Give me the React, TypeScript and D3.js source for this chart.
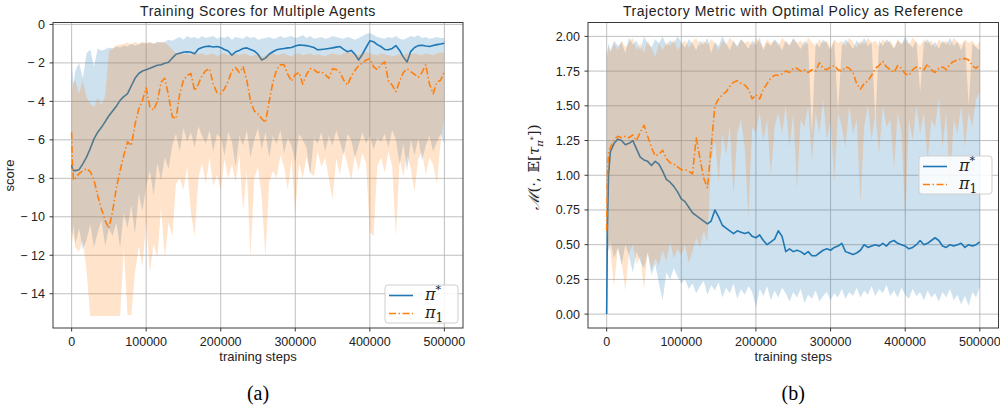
import * as d3 from "d3";

// training steps (in thousands) at which every series below is sampled
const stepsK = [0, 1, 2.5,
  5, 10, 15, 20, 25, 30, 35, 40, 45, 50,
  55, 60, 65, 70, 75, 80, 85, 90, 95, 100,
  105, 110, 115, 120, 125, 130, 135, 140, 145, 150,
  155, 160, 165, 170, 175, 180, 185, 190, 195, 200,
  205, 210, 215, 220, 225, 230, 235, 240, 245, 250,
  255, 260, 265, 270, 275, 280, 285, 290, 295, 300,
  305, 310, 315, 320, 325, 330, 335, 340, 345, 350,
  355, 360, 365, 370, 375, 380, 385, 390, 395, 400,
  405, 410, 415, 420, 425, 430, 435, 440, 445, 450,
  455, 460, 465, 470, 475, 480, 485, 490, 495, 500];

// (a) training scores
const scoreStar = [-7.3, -7.5, -7.6,
  -7.6, -7.55, -7.25, -6.9, -6.45, -5.95, -5.6, -5.35, -5.05, -4.75,
  -4.5, -4.25, -3.95, -3.75, -3.6, -3.2, -2.8, -2.55, -2.42, -2.35,
  -2.28, -2.2, -2.12, -2.1, -2.02, -1.97, -1.75, -1.55, -1.5, -1.45,
  -1.42, -1.45, -1.52, -1.28, -1.2, -1.15, -1.13, -1.17, -1.15, -1.2,
  -1.3, -1.38, -1.6, -1.42, -1.35, -1.25, -1.22, -1.3, -1.38, -1.55,
  -1.85, -1.75, -1.55, -1.42, -1.32, -1.28, -1.25, -1.22, -1.2, -1.12,
  -1.07, -1.08, -1.1, -1.15, -1.2, -1.32, -1.3, -1.28, -1.25, -1.22,
  -1.18, -1.15, -1.3, -1.42, -1.35, -1.55, -1.85, -1.55, -1.2, -0.85,
  -0.9, -1.05, -1.15, -1.3, -1.32, -1.25, -1.1, -1.35, -1.7, -1.95,
  -1.4, -1.2, -1.1, -1.08, -1.12, -1.15, -1.1, -1.05, -1.02, -0.98];
const scoreStarHi = [-0.55, -2.3, -3.1,
  -2.4, -2.0, -2.8, -1.5, -1.3, -2.2, -1.25, -1.35, -1.3, -1.2,
  -1.25, -1.15, -1.2, -1.1, -1.15, -1.0, -1.1, -1.05, -0.95, -1.0,
  -0.95, -1.0, -0.9, -0.95, -0.9, -0.8, -0.85, -0.75, -0.65, -0.8,
  -0.6, -0.7, -0.65, -0.75, -0.6, -0.7, -0.65, -0.6, -0.75, -0.65,
  -0.7, -0.6, -0.8, -0.65, -0.7, -0.75, -0.6, -0.7, -0.65, -0.8,
  -0.75, -0.7, -0.65, -0.75, -0.7, -0.6, -0.7, -0.65, -0.6, -0.7,
  -0.65, -0.55, -0.7, -0.6, -0.75, -0.7, -0.65, -0.75, -0.7, -0.6,
  -0.65, -0.7, -0.75, -0.65, -0.7, -0.8, -0.7, -0.6, -0.5, -0.45,
  -0.55, -0.65, -0.7, -0.75, -0.65, -0.7, -0.6, -0.75, -0.8, -0.7,
  -0.6, -0.65, -0.55, -0.7, -0.65, -0.75, -0.7, -0.65, -0.7, -0.7];
const scoreStarLo = [-10.6, -11.0, -10.4,
  -11.4, -10.6, -11.7, -11.2, -10.4, -11.6, -10.8, -10.2, -11.5, -10.6,
  -11.0, -10.3, -11.6, -9.8, -10.6, -9.4, -10.9, -8.8, -9.7, -8.4,
  -7.6, -8.9, -7.2, -8.1, -6.9, -7.5, -6.3, -5.7, -6.6, -5.4,
  -6.1, -5.6, -6.4, -5.3, -5.8, -6.2, -5.5, -6.6, -5.7, -5.9,
  -6.8, -5.6, -6.1, -7.4, -5.8, -6.3, -5.5, -6.9, -6.0, -5.4,
  -6.5, -5.6, -6.9, -5.8, -6.2, -5.5, -6.7, -5.9, -6.3, -7.2,
  -5.7, -6.0, -6.4, -7.8, -5.9, -6.2, -5.6, -6.6, -5.8, -6.3,
  -5.5, -6.1, -6.8, -5.7, -6.0, -6.9, -6.3, -5.6, -6.2, -5.8,
  -6.5, -5.9, -6.1, -5.7, -6.4, -5.5, -6.0, -7.3, -6.2, -7.6,
  -6.0, -6.8, -5.9, -7.1, -6.3, -5.8, -6.6, -6.1, -5.7, -6.2];
const scorePi1 = [-5.6, -7.2, -8.1,
  -8.0, -7.75, -7.6, -7.5, -7.65, -8.1, -8.9, -9.6, -10.2, -10.6,
  -9.7, -8.5, -7.6, -6.8, -6.1, -6.3, -5.2, -4.4, -3.95, -3.3,
  -4.3, -4.45, -4.0, -3.0, -2.8, -3.7, -4.8, -4.9, -3.6, -2.9,
  -2.65, -2.55, -3.45, -3.1, -2.65, -2.4, -2.3, -3.1, -3.55, -3.6,
  -3.35, -2.95, -2.4, -2.25, -2.5, -2.2, -2.9, -4.0, -4.5, -4.65,
  -4.9, -5.1, -4.0, -3.0, -2.35, -2.1, -2.1, -2.6, -2.95, -2.6,
  -2.5, -3.1, -2.6, -2.3, -2.35, -2.5, -2.45, -2.6, -2.8, -2.3,
  -2.35, -2.5, -2.9, -3.15, -2.7, -2.4, -2.15, -2.0, -1.85, -1.78,
  -2.2, -2.35, -2.1, -1.95, -2.95, -3.15, -3.5, -2.95, -2.5, -2.3,
  -2.45, -2.6, -2.75, -2.5, -2.1, -3.1, -3.6, -3.0, -2.9, -2.45];
const scorePi1Hi = [-2.6, -3.4, -3.0,
  -2.9, -3.6, -2.9, -3.8, -4.1, -4.3, -3.8, -4.2, -3.7, -1.4,
  -1.25, -1.1, -1.05, -1.0, -0.95, -1.05, -0.9, -1.0, -0.92, -0.95,
  -0.9, -1.0, -0.95, -0.9, -0.95, -1.1, -1.3, -1.5, -1.45, -1.55,
  -1.5, -1.6, -1.45, -1.55, -1.5, -1.6, -1.55, -1.5, -1.65, -1.55,
  -1.5, -1.6, -1.55, -1.5, -1.6, -1.5, -1.55, -1.65, -1.6, -1.55,
  -1.7, -1.6, -1.55, -1.5, -1.6, -1.55, -1.5, -1.6, -1.65, -1.55,
  -1.5, -1.6, -1.55, -1.5, -1.6, -1.55, -1.6, -1.65, -1.55, -1.5,
  -1.55, -1.6, -1.5, -1.45, -1.5, -1.55, -1.6, -1.5, -1.45, -1.5,
  -1.55, -1.6, -1.5, -1.55, -1.6, -1.65, -1.6, -1.55, -1.6, -1.5,
  -1.55, -1.5, -1.55, -1.6, -1.5, -1.55, -1.6, -1.5, -1.45, -1.5];
const scorePi1Lo = [-10.5, -11.3, -10.9,
  -11.6, -11.8, -11.2, -12.8, -15.15, -15.15, -15.15, -15.15, -15.15, -15.15,
  -15.15, -15.15, -15.15, -11.6, -15.1, -15.1, -12.9, -11.5, -12.6, -10.2,
  -12.9, -11.4, -12.1, -9.5, -12.1, -10.3, -11.0, -8.3, -8.0, -8.6,
  -7.4, -9.8, -11.0, -8.0, -7.2, -8.3, -6.9, -8.4, -7.8, -8.6,
  -7.0, -8.0, -7.3, -8.2, -6.8, -9.7, -7.6, -12.1, -8.0, -7.4,
  -9.0, -12.1, -8.2, -7.6, -8.0, -6.8, -7.4, -8.6, -7.0, -9.8,
  -7.2, -8.0, -6.9, -7.7, -7.9, -6.6, -7.4, -6.9, -8.0, -9.1,
  -7.0, -7.8, -6.5, -7.3, -8.1, -6.8, -7.6, -6.7, -7.2, -10.8,
  -11.0, -7.4, -6.9, -7.7, -6.6, -7.4, -11.0, -7.0, -7.9, -6.8,
  -7.5, -8.7, -7.0, -6.6, -7.8, -6.9, -7.3, -8.3, -6.1, -4.8];

// (b) trajectory metric
const metricStar = [0.0, 0.6, 1.0,
  1.17, 1.23, 1.26, 1.25, 1.22, 1.23, 1.25, 1.19, 1.13, 1.11,
  1.1, 1.07, 1.1, 1.08, 1.03, 0.97, 0.95, 0.92, 0.88, 0.83,
  0.81, 0.77, 0.73, 0.71, 0.69, 0.67, 0.65, 0.67, 0.75, 0.7,
  0.64, 0.62, 0.6, 0.58, 0.6, 0.59, 0.58, 0.59, 0.56, 0.55,
  0.57, 0.53, 0.5, 0.52, 0.54, 0.6, 0.56, 0.45, 0.47, 0.45,
  0.46, 0.45, 0.43, 0.45, 0.42, 0.42, 0.44, 0.46, 0.47, 0.46,
  0.48, 0.49, 0.51, 0.45, 0.44, 0.43, 0.44, 0.46, 0.5, 0.48,
  0.49, 0.5, 0.49, 0.51, 0.49, 0.52, 0.53, 0.51, 0.5, 0.49,
  0.47, 0.48, 0.5, 0.53, 0.5, 0.51, 0.53, 0.55, 0.53, 0.49,
  0.48, 0.5, 0.49, 0.5, 0.51, 0.48, 0.5, 0.49, 0.5, 0.52];
const metricStarHi = [1.88, 1.9, 1.95,
  1.9, 1.97, 1.93, 1.96, 1.88, 1.99, 1.94, 1.97, 1.9, 2.0,
  1.95, 1.92, 1.98, 1.95, 2.0, 1.93, 1.97, 1.95, 2.0, 1.96,
  1.92, 1.98, 1.95, 1.9, 1.97, 1.94, 1.99, 1.88, 1.96, 1.93,
  2.0, 1.95, 1.9, 1.97, 1.93, 1.98, 1.95, 1.91, 1.97, 1.94,
  1.99, 1.9, 1.96, 1.93, 1.98, 1.95, 1.9, 1.97, 1.93, 1.99,
  1.95, 1.91, 1.97, 1.94, 1.3, 1.96, 1.92, 1.98, 1.95, 1.9,
  1.97, 1.45, 1.93, 1.98, 1.95, 1.91, 1.97, 1.94, 1.99, 1.93,
  1.96, 1.4, 1.97, 1.93, 1.98, 1.95, 1.91, 1.97, 1.94, 2.0,
  1.95, 1.92, 1.97, 1.6, 1.95, 1.98, 1.93, 1.96, 1.91, 1.97,
  1.94, 1.99, 1.93, 1.96, 1.9, 1.97, 1.5, 1.95, 1.92, 1.9];
const metricStarLo = [0.55, 0.5, 0.45,
  0.52, 0.4, 0.48, 0.35, 0.5, 0.42, 0.3, 0.45, 0.38, 0.33,
  0.44, 0.28, 0.36, 0.22, 0.1, 0.3, 0.25, 0.33, 0.27, 0.22,
  0.25, 0.18, 0.22, 0.15, 0.2, 0.24, 0.14, 0.21, 0.17, 0.23,
  0.12, 0.19, 0.15, 0.22, 0.11, 0.18, 0.14, 0.2, 0.16, 0.05,
  0.18, 0.13, 0.2, 0.1, 0.17, 0.12, 0.19, 0.15, 0.09, 0.16,
  0.12, 0.18, 0.08, 0.14, 0.11, 0.17, 0.09, 0.13, 0.16, 0.1,
  0.15, 0.12, 0.18, 0.11, 0.16, 0.13, 0.19, 0.12, 0.17, 0.14,
  0.2, 0.13, 0.18, 0.15, 0.21, 0.13, 0.17, 0.12, 0.19, 0.14,
  0.11, 0.18, 0.13, 0.16, 0.1, 0.17, 0.12, 0.15, 0.09, 0.16,
  0.12, 0.18, 0.1, 0.14, 0.07, 0.13, 0.06, 0.16, 0.12, 0.2];
const metricPi1 = [0.6, 1.0, 1.16,
  1.2, 1.26, 1.28, 1.27, 1.28, 1.27, 1.29, 1.25, 1.31, 1.36,
  1.28, 1.2, 1.14, 1.15, 1.18, 1.12, 1.09, 1.08, 1.06, 1.04,
  1.04, 1.03, 1.01, 1.27, 1.12, 0.98, 0.91, 1.2, 1.5, 1.55,
  1.58, 1.6, 1.64, 1.67, 1.68, 1.66, 1.65, 1.62, 1.55, 1.58,
  1.55, 1.62, 1.66, 1.7, 1.72, 1.72, 1.73, 1.75, 1.74, 1.77,
  1.77, 1.75, 1.76, 1.74, 1.76, 1.75, 1.81, 1.77, 1.76, 1.78,
  1.79, 1.76, 1.75, 1.78, 1.77, 1.74, 1.66, 1.62, 1.66, 1.68,
  1.72, 1.77, 1.79, 1.82, 1.78, 1.76, 1.74, 1.79, 1.77, 1.73,
  1.72, 1.76, 1.78, 1.77, 1.76, 1.8, 1.76, 1.74, 1.77, 1.78,
  1.76, 1.8, 1.82, 1.83, 1.84, 1.84, 1.83, 1.79, 1.77, 1.8];
const metricPi1Hi = [1.9, 1.85, 1.93,
  1.88, 1.95, 1.9, 1.97, 1.92, 1.96, 1.99, 1.9, 1.95, 1.88,
  1.97, 1.92, 1.85, 1.95, 1.9, 1.96, 1.93, 1.98, 1.9, 1.95,
  1.97, 1.92, 1.96, 1.99, 1.93, 1.97, 1.94, 1.98, 1.95, 1.9,
  1.97, 1.94, 1.99, 1.96, 1.92, 1.98, 1.95, 1.97, 1.93, 1.99,
  1.96, 1.92, 1.98, 1.95, 1.97, 1.93, 1.99, 1.96, 1.94, 1.98,
  1.95, 1.97, 1.93, 1.99, 1.96, 1.93, 1.98, 1.95, 1.97, 1.92,
  1.98, 1.95, 1.97, 1.93, 1.99, 1.96, 1.92, 1.97, 1.94, 1.99,
  1.95, 1.97, 1.93, 1.98, 1.95, 1.97, 1.92, 1.98, 1.95, 1.97,
  1.94, 1.99, 1.96, 1.93, 1.98, 1.95, 1.97, 1.92, 1.98, 1.95,
  1.97, 1.93, 1.99, 1.96, 1.94, 1.98, 1.95, 1.97, 1.93, 1.96];
const metricPi1Lo = [0.6, 0.55, 0.5,
  0.45, 0.2, 0.48, 0.38, 0.17, 0.44, 0.5, 0.36, 0.42, 0.18,
  0.45, 0.32, 0.4, 0.35, 0.46, 0.38, 0.52, 0.4, 0.47, 0.42,
  0.5, 0.37, 0.45, 0.55, 0.48, 0.6, 0.52, 1.1, 1.25, 0.95,
  1.3, 1.15, 1.35, 0.85, 1.3, 1.4, 1.2, 0.7, 1.35, 1.3,
  1.45, 1.25, 1.4, 1.0, 1.35, 1.45, 1.3, 1.5, 1.2, 1.45,
  0.9, 1.4, 1.35, 1.5, 1.1, 1.45, 1.3, 1.55, 1.25, 1.4,
  0.95, 1.45, 1.35, 1.2, 1.5, 1.3, 1.4, 0.8, 1.35, 1.5,
  1.25, 1.45, 1.15, 1.5, 1.35, 1.4, 1.05, 1.45, 1.3, 0.68,
  1.4, 1.25, 1.5, 1.3, 1.45, 1.1, 1.4, 1.35, 1.55, 1.2,
  1.45, 0.9, 1.4, 1.3, 1.5, 1.2, 1.45, 1.35, 1.55, 1.6];

const xTicks = [0, 100000, 200000, 300000, 400000, 500000];
const xTickLabels = ["0", "100000", "200000", "300000", "400000", "500000"];
const scoreTicks = [0, -2, -4, -6, -8, -10, -12, -14];
const scoreTickLabels = ["0", "\u2212 2", "\u2212 4", "\u2212 6", "\u2212 8", "\u2212 10", "\u2212 12", "\u2212 14"];
const metricTicks = [0, 0.25, 0.5, 0.75, 1.0, 1.25, 1.5, 1.75, 2.0];
const metricTickLabels = ["0.00", "0.25", "0.50", "0.75", "1.00", "1.25", "1.50", "1.75", "2.00"];

const BLUE = "#1f77b4";
const ORANGE = "#ff7f0e";
const SANS = "'Liberation Sans', Arial, Helvetica, sans-serif";
const SERIF = "'DejaVu Serif', 'Liberation Serif', serif";
const CAPTION = "'Liberation Serif', 'Times New Roman', serif";

const Panel = ({ id, left, right, top, bottom, yDomain, yTicks, yTickLabels, title, yLabel, series, legend, caption }) => {
  const x = d3.scaleLinear().domain([-25000, 525000]).range([left, right]);
  const y = d3.scaleLinear().domain(yDomain).range([bottom, top]);
  const cx = (left + right) / 2;

  return (
    <g>
      <defs>
        <clipPath id={id}>
          <rect x={left} y={top} width={right - left} height={bottom - top} />
        </clipPath>
      </defs>
      <rect x={left} y={top} width={right - left} height={bottom - top} fill="#fff" />
      {/* grid */}
      <g stroke="#b0b0b0" strokeWidth={0.8}>
        {xTicks.map((t) => <line key={t} x1={x(t)} x2={x(t)} y1={top} y2={bottom} />)}
        {yTicks.map((t) => <line key={t} x1={left} x2={right} y1={y(t)} y2={y(t)} />)}
      </g>
      <g clipPath={`url(#${id})`}>
        {series.map((s) => {
          const area = d3.area()
            .x((_, i) => x(stepsK[i] * 1000))
            .y0((_, i) => y(s.lo[i]))
            .y1((_, i) => y(s.hi[i]));
          const line = d3.line()
            .x((_, i) => x(stepsK[i] * 1000))
            .y((d) => y(d));
          return (
            <g key={s.name}>
              <path d={area(stepsK)} fill={s.color} fillOpacity={0.22} />
              <path d={line(s.mean)} fill="none" stroke={s.color} strokeWidth={1.6}
                strokeDasharray={s.dash} strokeLinejoin="round" />
            </g>
          );
        })}
      </g>
      {/* frame */}
      <rect x={left} y={top} width={right - left} height={bottom - top} fill="none" stroke="#3a3a3a" strokeWidth={1} />
      {/* ticks */}
      <g fontFamily={SANS} fontSize={12.5} fill="#222">
        {xTicks.map((t, i) => (
          <g key={t}>
            <line x1={x(t)} x2={x(t)} y1={bottom} y2={bottom + 3.5} stroke="#3a3a3a" />
            <text x={x(t)} y={bottom + 17.5} textAnchor="middle">{xTickLabels[i]}</text>
          </g>
        ))}
        {yTicks.map((t, i) => (
          <g key={t}>
            <line x1={left - 3.5} x2={left} y1={y(t)} y2={y(t)} stroke="#3a3a3a" />
            <text x={left - 8} y={y(t) + 4.5} textAnchor="end">{yTickLabels[i]}</text>
          </g>
        ))}
      </g>
      <text x={cx} y={16} textAnchor="middle" fontFamily={SANS} fontSize={14} letterSpacing={0.55} fill="#222">{title}</text>
      <text x={cx} y={360.5} textAnchor="middle" fontFamily={SANS} fontSize={13} fill="#222">training steps</text>
      {yLabel}
      {/* legend */}
      <g>
        <rect x={legend.x} y={legend.y} width={73} height={38} rx={3} fill="#fff" fillOpacity={0.85} stroke="#cfcfcf" />
        {series.map((s, i) => (
          <g key={s.name}>
            <line x1={legend.x + 4} x2={legend.x + 28} y1={legend.y + 10.5 + i * 18} y2={legend.y + 10.5 + i * 18}
              stroke={s.color} strokeWidth={1.6} strokeDasharray={s.dash} />
            <text x={legend.x + 40} y={legend.y + 15 + i * 18} fontFamily={SERIF} fontSize={16} fontStyle="italic" fill="#222">
              π
              {i === 0
                ? <tspan fontSize={11} fontStyle="normal" dy={-7}>*</tspan>
                : <tspan fontSize={12} fontStyle="normal" dy={3.5}>1</tspan>}
            </text>
          </g>
        ))}
      </g>
      <text x={cx} y={400} textAnchor="middle" fontFamily={CAPTION} fontSize={20} fill="#000">{caption}</text>
    </g>
  );
};

export default function App() {
  return (
    <svg width={1000} height={405} viewBox="0 0 1000 405" style={{ display: "block", position: "absolute", left: 0, top: 0 }}>
      <rect width={1000} height={405} fill="#fff" />
      <Panel
        id="clipA"
        left={53} right={463} top={22.5} bottom={328}
        yDomain={[-15.78, 0.1]}
        yTicks={scoreTicks} yTickLabels={scoreTickLabels}
        title="Training Scores for Multiple Agents"
        yLabel={
          <text transform="translate(14,175.5) rotate(-90)" textAnchor="middle" fontFamily={SANS} fontSize={13} fill="#222">score</text>
        }
        series={[
          { name: "star", lo: scoreStarLo, hi: scoreStarHi, mean: scoreStar, color: BLUE },
          { name: "pi1", lo: scorePi1Lo, hi: scorePi1Hi, mean: scorePi1, color: ORANGE, dash: "7 2.5 1.5 2.5" },
        ]}
        legend={{ x: 385, y: 285 }}
        caption="(a)"
      />
      <Panel
        id="clipB"
        left={588} right={998.5} top={22.5} bottom={328}
        yDomain={[-0.1, 2.1]}
        yTicks={metricTicks} yTickLabels={metricTickLabels}
        title="Trajectory Metric with Optimal Policy as Reference"
        yLabel={
          <text transform="translate(539,167) rotate(-90)" textAnchor="middle" fontFamily={SERIF} fontSize={15} fill="#222">
            <tspan fontStyle="italic">ℳ</tspan>(·, 𝔼[<tspan fontStyle="italic">τ</tspan>
            <tspan fontSize={10} fontStyle="italic" dy={4}>π</tspan>
            <tspan fontSize={8} dy={-7}>*</tspan>
            <tspan dy={3}>])</tspan>
          </text>
        }
        series={[
          { name: "star", lo: metricStarLo, hi: metricStarHi, mean: metricStar, color: BLUE },
          { name: "pi1", lo: metricPi1Lo, hi: metricPi1Hi, mean: metricPi1, color: ORANGE, dash: "7 2.5 1.5 2.5" },
        ]}
        legend={{ x: 919, y: 156 }}
        caption="(b)"
      />
    </svg>
  );
}
